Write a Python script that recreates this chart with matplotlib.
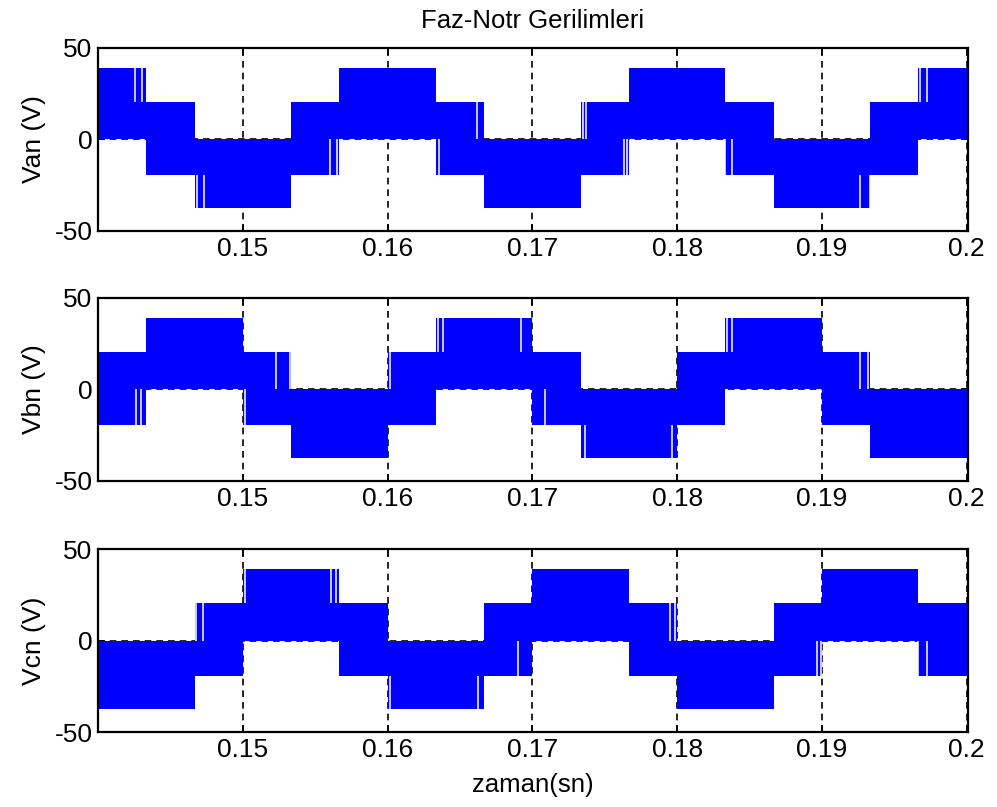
import numpy as np
import matplotlib.pyplot as plt

plt.rcParams['font.family'] = ['Liberation Sans', 'DejaVu Sans']
plt.rcParams['axes.unicode_minus'] = False

# PWM envelope of each phase voltage
# (segment edges in s, lower / upper edge of the switching band in V)
van_t = [0.14, 0.14333, 0.14667, 0.15333, 0.15667, 0.16333, 0.16667,
         0.17333, 0.17667, 0.18333, 0.18667, 0.19333, 0.19667, 0.2]
van_lo = [0, -19.5, -37.5, -19.5, 0, -19.5, -37.5, -19.5, 0, -19.5, -37.5, -19.5, 0]
van_hi = [39, 20.5, 0, 20.5, 39, 20.5, 0, 20.5, 39, 20.5, 0, 20.5, 39]

vbn_t = [0.14, 0.14333, 0.15, 0.15333, 0.16, 0.16333, 0.17,
         0.17333, 0.18, 0.18333, 0.19, 0.19333, 0.2]
vbn_lo = [-19.5, 0, -19.5, -37.5, -19.5, 0, -19.5, -37.5, -19.5, 0, -19.5, -37.5]
vbn_hi = [20.5, 39, 20.5, 0, 20.5, 39, 20.5, 0, 20.5, 39, 20.5, 0]

vcn_t = [0.14, 0.14667, 0.15, 0.15667, 0.16, 0.16667, 0.17,
         0.17667, 0.18, 0.18667, 0.19, 0.19667, 0.2]
vcn_lo = [-37.5, -19.5, 0, -19.5, -37.5, -19.5, 0, -19.5, -37.5, -19.5, 0, -19.5]
vcn_hi = [0, 20.5, 39, 20.5, 0, 20.5, 39, 20.5, 0, 20.5, 39, 20.5]

# missing pulses (white gaps inside the bands): time, from, to
van_gap_t = [0.14256, 0.14302, 0.14686, 0.14732, 0.15603, 0.15651, 0.16356,
             0.16621, 0.17351, 0.17371, 0.17634, 0.17655, 0.18331, 0.18380,
             0.19264, 0.19333, 0.19679, 0.19727]
van_gap_lo = [20.5, 20.5, -37.5, -37.5, -19.5, -19.5, -19.5,
              0, 0, 0, -19.5, -19.5, -19.5, -19.5,
              -37.5, -37.5, 20.5, 20.5]
van_gap_hi = [39, 39, -19.5, -19.5, 0, 0, 0,
              20.5, 20.5, 20.5, 0, 0, 0, 0,
              -19.5, -19.5, 39, 39]

vbn_gap_t = [0.14263, 0.14297, 0.15016, 0.15230, 0.15326, 0.16014, 0.16349,
             0.16383, 0.16922, 0.17088, 0.17364, 0.17966, 0.18345, 0.18380,
             0.19264, 0.19320]
vbn_gap_lo = [-19.5, -19.5, -19.5, 0, 0, 0, 20.5,
              20.5, 20.5, -19.5, -37.5, -37.5, 20.5, 20.5,
              0, 0]
vbn_gap_hi = [0, 0, 0, 20.5, 20.5, 20.5, 39,
              39, 39, 0, -19.5, -19.5, 39, 39,
              20.5, 20.5]

vcn_gap_t = [0.14677, 0.14725, 0.15016, 0.15610, 0.15644, 0.16017, 0.16625,
             0.16902, 0.17952, 0.17986, 0.18967, 0.18994, 0.19665, 0.19727]
vcn_gap_lo = [0, 0, 20.5, 20.5, 20.5, -37.5, -37.5,
              -19.5, 0, 0, -19.5, -19.5, -19.5, -19.5]
vcn_gap_hi = [20.5, 20.5, 39, 39, 39, -19.5, -19.5,
              0, 20.5, 20.5, 0, 0, 0, 0]

phases = [(van_t, van_lo, van_hi, van_gap_t, van_gap_lo, van_gap_hi, 'Van (V)'),
          (vbn_t, vbn_lo, vbn_hi, vbn_gap_t, vbn_gap_lo, vbn_gap_hi, 'Vbn (V)'),
          (vcn_t, vcn_lo, vcn_hi, vcn_gap_t, vcn_gap_lo, vcn_gap_hi, 'Vcn (V)')]

xticks = [0.15, 0.16, 0.17, 0.18, 0.19, 0.2]
xticklabels = ['0.15', '0.16', '0.17', '0.18', '0.19', '0.2']
yticks = [-50, 0, 50]

fig = plt.figure(figsize=(9.97, 8.07), dpi=100)
bottoms = [0.7138, 0.404, 0.0929]
fs = 19

for i, (t, lo, hi, gt, glo, ghi, lab) in enumerate(phases):
    ax = fig.add_axes([0.0983, bottoms[i], 0.8727, 0.2268])
    ax.set_axisbelow(True)
    ax.grid(True, color='black', linestyle=(0, (4, 3)), linewidth=1.2)
    # step fill: repeat last value so the final segment reaches the right edge
    ax.fill_between(t, lo + [lo[-1]], hi + [hi[-1]], step='post',
                    color='#0000ff', linewidth=0)
    ax.vlines(gt, glo, ghi, color='white', linewidth=1.1)
    ax.set_xlim(0.14, 0.2001)
    ax.set_ylim(-50, 50)
    ax.set_xticks(xticks)
    ax.set_xticklabels(xticklabels)
    ax.set_yticks(yticks)
    ax.tick_params(direction='in', length=5, width=1.2, top=True, right=True,
                   labelsize=fs, pad=4)
    for s in ax.spines.values():
        s.set_linewidth(1.6)
    ax.set_ylabel(lab, fontsize=fs, labelpad=6)
    if i == 0:
        ax.set_title('Faz-Notr Gerilimleri', fontsize=18.5, pad=14)
    if i == 2:
        ax.set_xlabel('zaman(sn)', fontsize=18.5, labelpad=8)

fig.savefig('out.png', dpi=100)
